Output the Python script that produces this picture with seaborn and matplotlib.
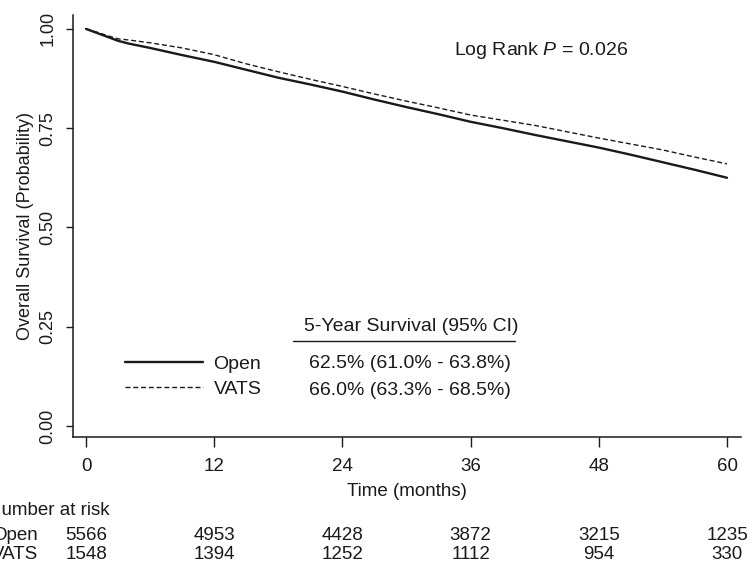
import matplotlib
matplotlib.use("Agg")
import matplotlib.pyplot as plt
import matplotlib.transforms as mtransforms
from matplotlib.lines import Line2D
import numpy as np
import pandas as pd
import seaborn as sns

# Kaplan-Meier overall survival estimates (months, probability)
months = [0, 1, 2, 3, 4, 6, 9, 12, 15, 18, 21, 24, 27, 30, 33, 36,
          39, 42, 45, 48, 51, 54, 57, 60]
surv_open = [1.000, 0.990, 0.980, 0.970, 0.963, 0.952, 0.934, 0.917, 0.897,
             0.877, 0.860, 0.842, 0.822, 0.803, 0.785, 0.766, 0.750, 0.733,
             0.717, 0.701, 0.683, 0.664, 0.645, 0.625]
surv_vats = [1.000, 0.992, 0.983, 0.975, 0.972, 0.965, 0.952, 0.935, 0.912,
             0.892, 0.873, 0.855, 0.836, 0.818, 0.801, 0.783, 0.770, 0.757,
             0.741, 0.725, 0.710, 0.695, 0.677, 0.660]

groups = ["Open", "VATS"]
five_year = ["62.5% (61.0% - 63.8%)", "66.0% (63.3% - 68.5%)"]
risk_times = [0, 12, 24, 36, 48, 60]
risk_open = [5566, 4953, 4428, 3872, 3215, 1235]
risk_vats = [1548, 1394, 1252, 1112, 954, 330]
x_ticks = [0, 12, 24, 36, 48, 60]
y_ticks = [0.00, 0.25, 0.50, 0.75, 1.00]

df = pd.DataFrame({
    "Time": months * 2,
    "Survival": surv_open + surv_vats,
    "Group": ["Open"] * len(months) + ["VATS"] * len(months),
})

sns.set_theme(style="ticks")
plt.rcParams["font.family"] = ["Liberation Sans", "DejaVu Sans"]
plt.rcParams["mathtext.fontset"] = "custom"
plt.rcParams["mathtext.rm"] = "Liberation Sans"
plt.rcParams["mathtext.it"] = "Liberation Sans:italic"

ink = "#1a1a1a"
fs = 13.5      # axis text and risk table
fs_note = 14   # annotations inside the plot

fig = plt.figure(figsize=(7.53, 5.68), dpi=100, facecolor="white")
ax = fig.add_axes([73 / 753, (568 - 437) / 568, (741 - 73) / 753, (437 - 15) / 568])

sns.lineplot(data=df, x="Time", y="Survival", style="Group",
             dashes={"Open": "", "VATS": (3.6, 2)}, color=ink,
             ax=ax, legend=False, estimator=None)
ax.lines[0].set_linewidth(1.7)
ax.lines[1].set_linewidth(1.0)

ax.set_xlim(-1.22, 61.31)
ax.set_ylim(-0.028, 1.035)
ax.set_xticks(x_ticks)
ax.set_xticklabels([str(t) for t in x_ticks])
ax.set_yticks(y_ticks)
ax.set_yticklabels([f"{v:.2f}" for v in y_ticks], rotation=90, va="center")
ax.tick_params(axis="x", length=7, width=1.0, pad=8, labelsize=fs, colors=ink)
ax.tick_params(axis="y", length=5, width=1.0, pad=7, labelsize=13, colors=ink)
sns.despine(ax=ax)
for s in ("left", "bottom"):
    ax.spines[s].set_linewidth(1.1)
    ax.spines[s].set_color(ink)
ax.set_xlabel("Time (months)", fontsize=fs, color=ink, labelpad=6)
ax.set_ylabel("Overall Survival (Probability)", fontsize=13, color=ink, labelpad=4)

# Legend for the two arms
handles = [Line2D([], [], color=ink, lw=1.7),
           Line2D([], [], color=ink, lw=1.0, dashes=(3.6, 2))]
ax.legend(handles, groups, loc="center left", bbox_to_anchor=(0.078, 0.143),
          frameon=False, fontsize=fs_note, handlelength=4.0, handletextpad=0.55,
          labelspacing=0.35, borderpad=0, borderaxespad=0,
          labelcolor=ink)

# Five-year survival table
ax.text(0.506, 0.261, "5-Year Survival (95% CI)", transform=ax.transAxes,
        ha="center", va="center", fontsize=fs_note, color=ink)
ax.plot([0.329, 0.662], [0.2275, 0.2275], transform=ax.transAxes,
        color=ink, lw=1.0, clip_on=False)
for txt, yy in zip(five_year, [0.175, 0.111]):
    ax.text(0.505, yy, txt, transform=ax.transAxes, ha="center", va="center",
            fontsize=fs_note, color=ink)

ax.text(0.701, 0.917, "Log Rank $P$ = 0.026", transform=ax.transAxes,
        ha="center", va="center", fontsize=fs_note, color=ink)

# Number at risk table
blend = mtransforms.blended_transform_factory(ax.transData, fig.transFigure)
fig.text(-0.016, 0.102, "Number at risk", ha="left", va="center",
         fontsize=fs, color=ink)
for label, counts, yy in [("Open", risk_open, 0.058), ("VATS", risk_vats, 0.023)]:
    fig.text(-0.011, yy, label, ha="left", va="center", fontsize=fs, color=ink)
    for t, n in zip(risk_times, counts):
        ax.text(t, yy, str(n), transform=blend, ha="center", va="center",
                fontsize=fs, color=ink, clip_on=False)

fig.savefig("out.png", dpi=100, facecolor="white")
